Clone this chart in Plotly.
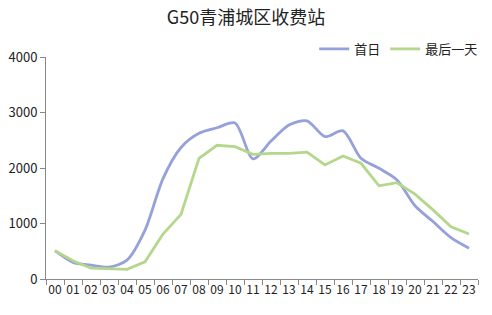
import plotly.graph_objects as go

hours = ["00","01","02","03","04","05","06","07","08","09","10","11",
         "12","13","14","15","16","17","18","19","20","21","22","23"]
first_day = [510, 300, 250, 215, 340, 880, 1810, 2370, 2625, 2725, 2810, 2165,
             2485, 2775, 2850, 2565, 2670, 2175, 1995, 1785, 1320, 1035, 745, 555]
last_day = [510, 330, 195, 190, 175, 310, 810, 1165, 2175, 2410, 2385, 2245,
            2265, 2265, 2285, 2055, 2215, 2085, 1680, 1735, 1530, 1245, 940, 810]

fig = go.Figure()
fig.add_trace(go.Scatter(x=hours, y=first_day, name="首日", mode="lines",
                         line=dict(color="#96a0d9", width=2.8, shape="spline", smoothing=0.8)))
fig.add_trace(go.Scatter(x=hours, y=last_day, name="最后一天", mode="lines",
                         line=dict(color="#b4d78c", width=2.8)))

fig.update_layout(
    width=492, height=315,
    margin=dict(l=40, r=9, t=57, b=36),
    paper_bgcolor="white", plot_bgcolor="white",
    font=dict(family="Noto Sans CJK SC, Open Sans, sans-serif", size=12, color="#222"),
    title=dict(text="G50青浦城区收费站", x=0.5, xanchor="center", y=0.945, yanchor="middle",
               font=dict(size=18, color="#222")),
    legend=dict(orientation="h", x=1.012, xanchor="right", y=1.036, yanchor="middle",
                font=dict(size=13, color="#222"), itemwidth=30, bgcolor="rgba(0,0,0,0)"),
    showlegend=True,
)
fig.update_xaxes(type="category", showline=True, linecolor="#888", linewidth=1,
                 ticks="outside", ticklen=5, tickcolor="#888", tickson="boundaries",
                 tickangle=0,
                 showgrid=False, zeroline=False, tickfont=dict(size=12, color="#222"),
                 range=[-0.5, 23.5])
fig.update_yaxes(range=[0, 4000], tickvals=[0, 1000, 2000, 3000, 4000],
                 showline=True, linecolor="#888", linewidth=1,
                 ticks="outside", ticklen=5, tickcolor="#888",
                 showgrid=False, zeroline=False, tickfont=dict(size=13, color="#222"))

fig.write_html("out.html")
